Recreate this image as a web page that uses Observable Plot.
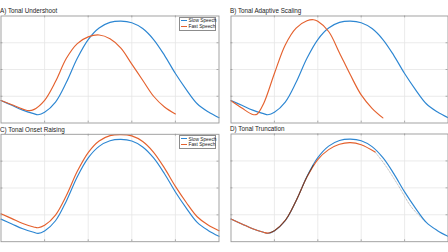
<!DOCTYPE html>
<html>
<head>
<meta charset="utf-8">
<script src="https://cdn.jsdelivr.net/npm/d3@7"></script>
<script src="https://cdn.jsdelivr.net/npm/@observablehq/plot@0.6"></script>
<style>
  html, body { margin: 0; padding: 0; background: #fff; }
  #wrap { position: relative; width: 448px; height: 252px; overflow: hidden; font-family: "Liberation Sans", Arial, sans-serif; }
  .panel { position: absolute; }
  .title { position: absolute; font-size: 6.3px; color: #1a1a1a; white-space: nowrap; line-height: 1; }
  .legend { position: absolute; border: 0.8px solid #8c8c8c; background: #fff; font-size: 4.8px; color: #222; box-sizing: border-box; }
  .legend .row { position: absolute; left: 1.5px; white-space: nowrap; line-height: 1; }
  .legend .sw { display: inline-block; width: 6px; height: 0; border-top: 1px solid; vertical-align: middle; margin-right: 1.5px; position: relative; top: -0.5px; }
</style>
</head>
<body>
<div id="wrap"></div>
<script>
// ---- data ----
const titles = ["A) Tonal Undershoot", "B) Tonal Adaptive Scaling", "C) Tonal Onset Raising", "D) Tonal Truncation"];
const seriesNames = ["Slow Speech", "Fast Speech"];

const slowX = [0, 0.25, 0.5, 0.75, 0.85, 1, 1.25, 1.5, 1.75, 2, 2.25, 2.5, 2.75, 3, 3.25, 3.5, 3.75, 4, 4.25, 4.5, 4.75, 5];
const slowY = [0.84, 0.66, 0.48, 0.35, 0.31, 0.40, 0.78, 1.52, 2.42, 3.12, 3.55, 3.76, 3.81, 3.75, 3.53, 3.12, 2.53, 1.85, 1.25, 0.72, 0.42, 0.20];

const fastAX = [0, 0.25, 0.5, 0.65, 0.75, 1, 1.25, 1.5, 1.75, 2, 2.25, 2.5, 2.75, 3, 3.25, 3.5, 3.75, 4];
const fastAY = [0.84, 0.68, 0.52, 0.46, 0.50, 0.85, 1.55, 2.42, 2.97, 3.22, 3.29, 3.15, 2.80, 2.20, 1.60, 1.00, 0.60, 0.34];

const fastBX = [0, 0.25, 0.5, 0.6, 0.75, 1, 1.25, 1.5, 1.75, 1.9, 2, 2.25, 2.5, 2.75, 3, 3.25, 3.5];
const fastBY = [0.83, 0.56, 0.32, 0.33, 0.72, 1.85, 2.92, 3.55, 3.82, 3.86, 3.80, 3.42, 2.62, 1.80, 1.05, 0.55, 0.19];

const fastCX = slowX;
const fastCY = [1.04, 0.86, 0.68, 0.55, 0.52, 0.61, 0.99, 1.72, 2.62, 3.32, 3.75, 3.95, 3.99, 3.94, 3.73, 3.33, 2.74, 2.06, 1.46, 0.93, 0.62, 0.41];

const fastDX = [0, 0.25, 0.5, 0.75, 0.85, 1, 1.25, 1.5, 1.75, 2, 2.25, 2.5, 2.75, 3, 3.32];
const fastDY = [0.84, 0.66, 0.48, 0.35, 0.32, 0.41, 0.79, 1.52, 2.40, 3.05, 3.42, 3.62, 3.68, 3.60, 3.33];

// dashed continuation of the truncated contour (D)
const truncDX = [3.32, 3.55, 3.85, 4.16, 4.47];
const truncDY = [3.33, 2.85, 2.10, 1.28, 0.76];

// dark overlap segment on the rise (D)
const darkDX = [0.9, 1, 1.25, 1.5, 1.75, 1.9];
const darkDY = [0.34, 0.41, 0.79, 1.52, 2.41, 2.85];

const gridTicksX = [1, 2, 3, 4];
const gridTicksY = [1, 2, 3];

// ---- build ----
const BLUE = "#2C86D2", ORANGE = "#E4612E";
const toRows = (xs, ys) => xs.map((x, i) => ({x, y: ys[i]}));
const slow = toRows(slowX, slowY);

const panels = [
  {left: 0, top: 0, mL: 0.5, mR: 5.5, mT: 15.5, mB: 3.5, fast: toRows(fastAX, fastAY), legend: true},
  {left: 224, top: 0, mL: 6.5, mR: 0.5, mT: 15.5, mB: 3.5, fast: toRows(fastBX, fastBY), legend: false},
  {left: 0, top: 126, mL: 0.5, mR: 5.5, mT: 7.8, mB: 10.8, fast: toRows(fastCX, fastCY), legend: true},
  {left: 224, top: 126, mL: 6.5, mR: 0.5, mT: 7.5, mB: 10.8, fast: toRows(fastDX, fastDY), legend: false,
   extra: toRows(truncDX, truncDY), dark: toRows(darkDX, darkDY)}
];

const wrap = document.getElementById("wrap");
panels.forEach((p, i) => {
  const W = 224, H = 126;
  const marks = [
    Plot.ruleX(gridTicksX, {stroke: "#e6e6e6", strokeWidth: 0.8}),
    Plot.ruleY(gridTicksY, {stroke: "#e6e6e6", strokeWidth: 0.8}),
    Plot.ruleX(gridTicksX, {y1: 0, y2: 0.07, stroke: "#999", strokeWidth: 0.8}),
    Plot.ruleX(gridTicksX, {y1: 3.93, y2: 4, stroke: "#999", strokeWidth: 0.8}),
    Plot.ruleY(gridTicksY, {x1: 0, x2: 0.045, stroke: "#999", strokeWidth: 0.8}),
    Plot.ruleY(gridTicksY, {x1: 4.955, x2: 5, stroke: "#999", strokeWidth: 0.8}),
  ];
  if (p.extra) marks.push(Plot.line(p.extra, {x: "x", y: "y", stroke: "#bdbdbd", strokeWidth: 0.9, strokeDasharray: "2,1.5", curve: "catmull-rom"}));
  marks.push(Plot.line(slow, {x: "x", y: "y", stroke: BLUE, strokeWidth: 1.15, curve: "catmull-rom"}));
  marks.push(Plot.line(p.fast, {x: "x", y: "y", stroke: ORANGE, strokeWidth: 1.15, curve: "catmull-rom"}));
  if (p.dark) marks.push(Plot.line(p.dark, {x: "x", y: "y", stroke: "#2b2b2b", strokeWidth: 0.9, strokeOpacity: 0.75, curve: "catmull-rom"}));
  marks.push(Plot.frame({stroke: "#999", strokeWidth: 0.9}));
  const chart = Plot.plot({
    width: W, height: H,
    marginLeft: p.mL, marginRight: p.mR, marginTop: p.mT, marginBottom: p.mB,
    x: {domain: [0, 5], axis: null},
    y: {domain: [0, 4], axis: null},
    style: {background: "transparent", overflow: "visible"},
    marks
  });
  const div = document.createElement("div");
  div.className = "panel";
  div.style.left = p.left + "px";
  div.style.top = p.top + "px";
  div.appendChild(chart);
  wrap.appendChild(div);

  const t = document.createElement("div");
  t.className = "title";
  t.textContent = titles[i];
  t.style.left = (p.left + p.mL - 0.5) + "px";
  t.style.top = (p.top + p.mT - 7.3) + "px";
  wrap.appendChild(t);

  if (p.legend) {
    const lg = document.createElement("div");
    lg.className = "legend";
    const frameRight = p.left + W - p.mR;
    lg.style.left = (frameRight - 40) + "px";
    lg.style.top = (p.top + p.mT + 1.3) + "px";
    lg.style.width = "37.5px";
    lg.style.height = "14px";
    seriesNames.forEach((n, k) => {
      const r = document.createElement("div");
      r.className = "row";
      r.style.top = (1.6 + k * 5.8) + "px";
      const sw = document.createElement("span");
      sw.className = "sw";
      sw.style.borderColor = k === 0 ? BLUE : ORANGE;
      r.appendChild(sw);
      r.appendChild(document.createTextNode(n));
      lg.appendChild(r);
    });
    wrap.appendChild(lg);
  }
});
</script>
</body>
</html>
